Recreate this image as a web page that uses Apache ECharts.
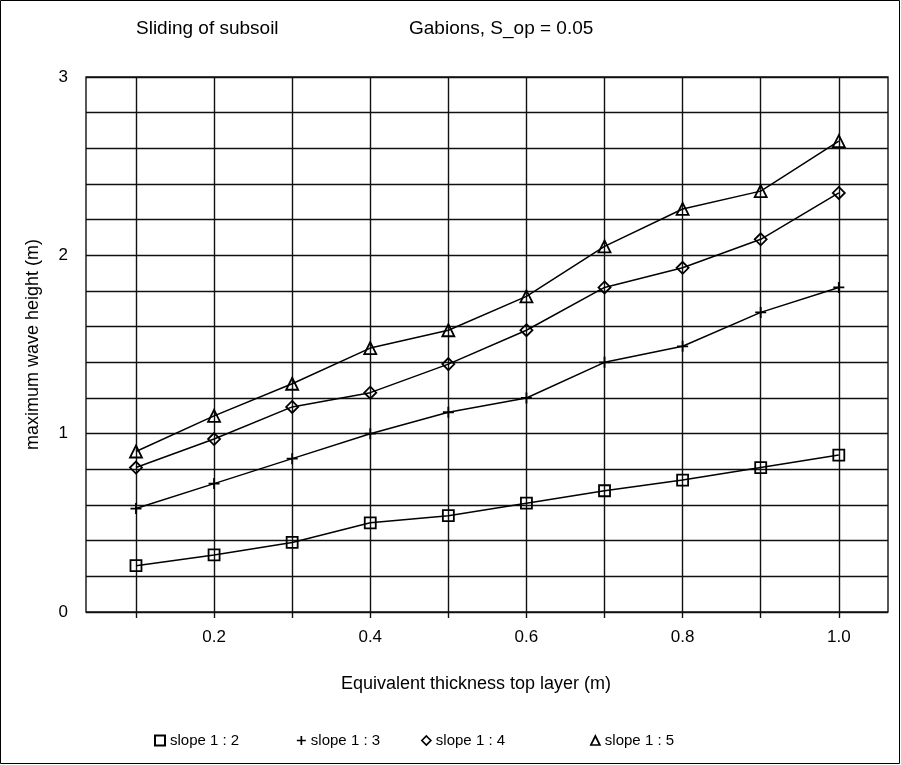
<!DOCTYPE html>
<html>
<head>
<meta charset="utf-8">
<script src="https://cdn.jsdelivr.net/npm/echarts@6/dist/echarts.min.js"></script>
<style>
  html, body { margin: 0; padding: 0; background: #fff; }
  #chart { width: 901px; height: 765px; }
</style>
</head>
<body>
<div id="chart"></div>
<script>
// Equivalent thickness of the top layer (m)
const thickness = [0.1, 0.2, 0.3, 0.4, 0.5, 0.6, 0.7, 0.8, 0.9, 1.0];
const xTickLabels = [0.2, 0.4, 0.6, 0.8, 1.0];
const yTickLabels = [0, 1, 2, 3];

// Maximum wave height (m) per slope
const slope12 = [0.26, 0.32, 0.39, 0.50, 0.54, 0.61, 0.68, 0.74, 0.81, 0.88];
const slope13 = [0.58, 0.72, 0.86, 1.00, 1.12, 1.20, 1.40, 1.49, 1.68, 1.82];
const slope14 = [0.81, 0.97, 1.15, 1.23, 1.39, 1.58, 1.82, 1.93, 2.09, 2.35];
const slope15 = [0.90, 1.10, 1.28, 1.48, 1.58, 1.77, 2.05, 2.26, 2.36, 2.64];

const seriesNames = ['slope 1 : 2', 'slope 1 : 3', 'slope 1 : 4', 'slope 1 : 5'];

const PLUS = 'path://M0,5L10,5M5,0L5,10';
const symbols = ['rect', PLUS, 'diamond', 'triangle'];
const symbolSizes = [11, 11, 12, 12];
const values = [slope12, slope13, slope14, slope15];

const FONT = 'Liberation Sans, Arial, sans-serif';

const chart = echarts.init(document.getElementById('chart'), null, { renderer: 'canvas' });

const series = values.map((vals, i) => ({
  name: seriesNames[i],
  type: 'line',
  data: thickness.map((x, k) => [x, vals[k]]),
  symbol: symbols[i],
  symbolSize: symbolSizes[i],
  showAllSymbol: true,
  lineStyle: { color: '#000', width: 1.5 },
  itemStyle: { color: 'rgba(0,0,0,0)', borderColor: '#000', borderWidth: 1.8 },
  emphasis: { disabled: true },
  z: 3
}));

const legendLefts = [154, 296, 421, 590];
const legends = seriesNames.map((n, i) => ({
  data: [{ name: n, icon: symbols[i] }],
  left: legendLefts[i],
  top: 733,
  padding: 0,
  itemWidth: i === 0 ? 10 : 9,
  itemHeight: i === 0 ? 10 : 9,
  selectedMode: false,
  itemStyle: { color: 'rgba(0,0,0,0)', borderColor: '#000', borderWidth: i === 0 ? 2 : 1.7 },
  textStyle: { fontFamily: FONT, fontSize: 15, color: '#000' }
}));

chart.setOption({
  animation: false,
  backgroundColor: '#fff',
  graphic: [
    { type: 'rect', shape: { x: 0.5, y: 0.5, width: 899, height: 763 },
      style: { fill: 'none', stroke: '#000', lineWidth: 1 }, silent: true },
    { type: 'text', left: 136, top: 19,
      style: { text: 'Sliding of subsoil', fontFamily: FONT, fontSize: 19, fill: '#000' } },
    { type: 'text', left: 409, top: 19,
      style: { text: 'Gabions, S_op = 0.05', fontFamily: FONT, fontSize: 19, fill: '#000' } }
  ],
  grid: { left: 86, top: 77, right: 13, bottom: 153, show: true, borderColor: '#111', borderWidth: 1.4 },
  legend: legends,
  xAxis: {
    type: 'value',
    min: 0.036,
    max: 1.063,
    name: 'Equivalent thickness top layer (m)',
    nameLocation: 'middle',
    nameGap: 63,
    nameTextStyle: { fontFamily: FONT, fontSize: 18, color: '#000', padding: [0, 22, 0, 0] },
    axisLine: { show: false },
    axisTick: { show: true, customValues: thickness, length: 6, lineStyle: { color: '#111', width: 1.4 } },
    axisLabel: {
      customValues: xTickLabels,
      margin: 17,
      formatter: v => v.toFixed(1),
      fontFamily: FONT, fontSize: 17, color: '#000'
    },
    splitLine: { show: true, lineStyle: { color: '#111', width: 1.4 } }
  },
  yAxis: {
    type: 'value',
    min: 0,
    max: 3,
    interval: 0.2,
    name: 'maximum wave height (m)',
    nameLocation: 'middle',
    nameGap: 44,
    nameTextStyle: { fontFamily: FONT, fontSize: 18, color: '#000' },
    axisLine: { show: false },
    axisTick: { show: false },
    axisLabel: {
      customValues: yTickLabels,
      margin: 18,
      formatter: v => String(Math.round(v)),
      fontFamily: FONT, fontSize: 17, color: '#000'
    },
    splitLine: { show: true, lineStyle: { color: '#111', width: 1.4 } }
  },
  series: series
});
</script>
</body>
</html>
